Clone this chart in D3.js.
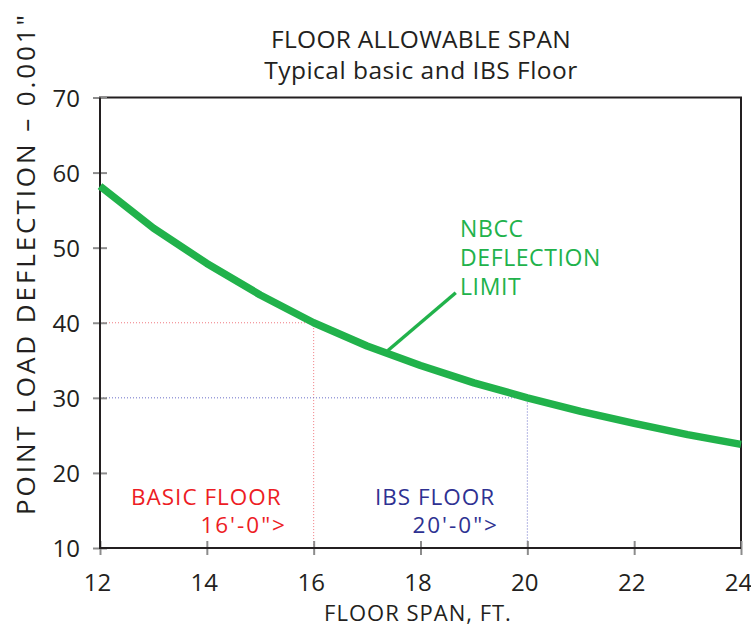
<!DOCTYPE html>
<html><head><meta charset="utf-8">
<script src="https://cdn.jsdelivr.net/npm/d3@7"></script>
<style>
html,body{margin:0;padding:0;background:#fff;}
svg{display:block;}
text{font-family:"Open Sans","Noto Sans",sans-serif;}
</style></head>
<body>
<svg id="chart" width="751" height="627"></svg>
<script>
// ---- data ----
const spans = [12, 13, 14, 15, 16, 17, 18, 19, 20, 21, 22, 23, 24];
const deflection = [58.2, 52.6, 47.9, 43.7, 40.0, 36.9, 34.3, 32.0, 30.0, 28.2, 26.6, 25.1, 23.8];
const xTicks = [12, 14, 16, 18, 20, 22, 24];
const yTicks = [10, 20, 30, 40, 50, 60, 70];
const markers = [
  {span: 16, defl: 40, label: "BASIC FLOOR", sub: "16'-0\">", color: "#ed1c24", dot: "#f07a80"},
  {span: 20, defl: 30, label: "IBS FLOOR", sub: "20'-0\">", color: "#2e3192", dot: "#6b6fc8"}
];
const titleLines = ["FLOOR ALLOWABLE SPAN", "Typical basic and IBS Floor"];
const xLabel = "FLOOR SPAN, FT.";
const yLabel = "POINT LOAD DEFLECTION \u2013 0.001\"";
const noteLines = ["NBCC", "DEFLECTION", "LIMIT"];
const noteLeader = {from: [17.39, 36.3], to: [18.66, 44.0]};

// ---- scales ----
const svg = d3.select("#chart");
const x = d3.scaleLinear().domain([12, 24]).range([100, 741]);
const y = d3.scaleLinear().domain([10, 70]).range([548, 97.5]);
const ink = "#231f20", tickGrey = "#8c8c8c", green = "#21b24b";

// title
svg.selectAll("text.title").data(titleLines).join("text")
  .attr("class", "title")
  .attr("x", 421).attr("y", (d, i) => 48 + i * 31)
  .attr("text-anchor", "middle").attr("font-size", 24.5).attr("letter-spacing", (d, i) => i ? 0.5 : 0.3)
  .attr("fill", ink)
  .text(d => d);

// dotted guide lines
markers.forEach(m => {
  svg.append("path")
    .attr("d", `M${x(12)},${y(m.defl)}H${x(m.span)}V${y(10)}`)
    .attr("fill", "none").attr("stroke", m.dot).attr("stroke-width", 1)
    .attr("stroke-dasharray", "1,2");
});

// frame
svg.append("path")
  .attr("d", `M${x(12)},${y(10)}V${y(70)}H${x(24)}V${y(10)}Z`)
  .attr("fill", "none").attr("stroke", ink).attr("stroke-width", 2);

// axes
const gx = svg.append("g").attr("transform", `translate(0,${y(10)})`)
  .call(d3.axisBottom(x).tickValues(xTicks).tickFormat(d3.format("d")).tickSize(7));
gx.select(".domain").remove();
gx.selectAll(".tick line").attr("y1", -7).attr("y2", 7).attr("stroke", tickGrey).attr("stroke-width", 2);
gx.selectAll(".tick text").attr("font-size", 24).attr("fill", ink)
  .attr("font-family", "'Open Sans','Noto Sans',sans-serif").attr("dy", null).attr("y", 43).attr("x", -3);

const gy = svg.append("g").attr("transform", `translate(${x(12)},0)`)
  .call(d3.axisLeft(y).tickValues(yTicks).tickFormat(d3.format("d")).tickSize(7));
gy.select(".domain").remove();
gy.selectAll(".tick line").attr("x1", -7).attr("x2", 7).attr("stroke", tickGrey).attr("stroke-width", 2);
gy.selectAll(".tick text").attr("font-size", 24).attr("fill", ink)
  .attr("font-family", "'Open Sans','Noto Sans',sans-serif").attr("x", -20).attr("dy", "0.36em");

// redraw axis lines on top of ticks
svg.append("path")
  .attr("d", `M${x(12)},${y(70)}V${y(10)}H${x(24)}`)
  .attr("fill", "none").attr("stroke", ink).attr("stroke-width", 2);

// axis labels
svg.append("text").attr("x", 418).attr("y", 621)
  .attr("text-anchor", "middle").attr("font-size", 22).attr("letter-spacing", 1)
  .attr("fill", ink).text(xLabel);
svg.append("text")
  .attr("transform", "translate(35,265) rotate(-90)")
  .attr("text-anchor", "middle").attr("font-size", 26).attr("fill", ink)
  .attr("textLength", 500).attr("lengthAdjust", "spacing")
  .text(yLabel);

// curve
const line = d3.line().x((d, i) => x(spans[i])).y(d => y(d)).curve(d3.curveLinear);
svg.append("path").datum(deflection)
  .attr("d", line).attr("fill", "none").attr("stroke", green)
  .attr("stroke-width", 7.5).attr("stroke-linejoin", "round");

// leader + note
svg.append("line")
  .attr("x1", x(noteLeader.from[0])).attr("y1", y(noteLeader.from[1]))
  .attr("x2", x(noteLeader.to[0])).attr("y2", y(noteLeader.to[1]))
  .attr("stroke", green).attr("stroke-width", 3.5);
svg.selectAll("text.note").data(noteLines).join("text")
  .attr("class", "note").attr("x", 460).attr("y", (d, i) => 237 + i * 29)
  .attr("font-size", 23).attr("letter-spacing", 0.6).attr("fill", green).text(d => d);

// marker labels
markers.forEach(m => {
  svg.append("text").attr("x", m.span === 16 ? 131 : 375).attr("y", 505)
    .attr("font-size", 22.5).attr("letter-spacing", 1).attr("fill", m.color).text(m.label);
  svg.append("text").attr("x", m.span === 16 ? 287 : 499).attr("y", 533)
    .attr("text-anchor", "end").attr("font-size", 22.5).attr("letter-spacing", 2)
    .attr("fill", m.color).text(m.sub);
});
</script>
</body></html>
